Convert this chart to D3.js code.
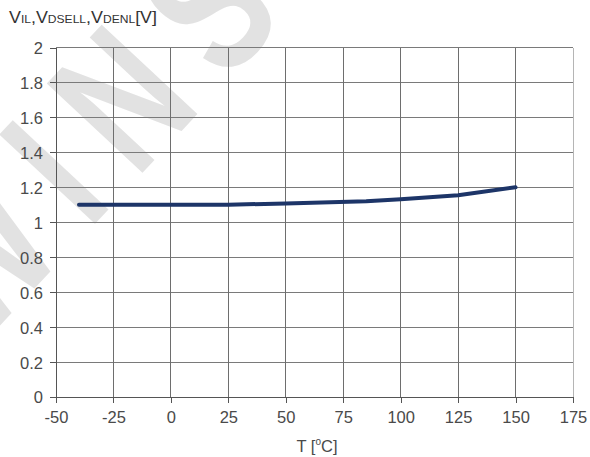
<!DOCTYPE html>
<html><head><meta charset="utf-8">
<script src="https://cdn.jsdelivr.net/npm/d3@7"></script>
<style>body{margin:0;background:#fff}svg{display:block}text{font-family:"Liberation Sans",Arial,sans-serif}</style>
</head><body><svg id="c" width="590" height="457"></svg>
<script>
const temps = [-40, 25, 50, 85, 100, 125, 150];
const volts = [1.10, 1.10, 1.108, 1.12, 1.132, 1.155, 1.20];
const xTicks = [-50, -25, 0, 25, 50, 75, 100, 125, 150, 175];
const yTicks = [0, 0.2, 0.4, 0.6, 0.8, 1, 1.2, 1.4, 1.6, 1.8, 2];

const svg = d3.select("#c");
const x = d3.scaleLinear().domain([-50, 175]).range([56, 573]);
const y = d3.scaleLinear().domain([0, 2]).range([397, 47.5]);

// watermark
svg.append("text").attr("transform", "translate(-21,348) rotate(-47) scale(0.72,1)")
  .attr("font-size", 190).attr("font-weight", "bold").attr("letter-spacing", 44)
  .attr("fill", "#e2e2e2")
  .text("WINSEMI");

// grid
svg.append("g").selectAll("line").data(yTicks.slice(1)).join("line")
  .attr("x1", x(-50)).attr("x2", x(175)).attr("y1", d => y(d)).attr("y2", d => y(d))
  .attr("stroke", "#7a7a7a").attr("stroke-width", 1).attr("shape-rendering", "crispEdges");
svg.append("g").selectAll("line").data(xTicks.slice(1)).join("line")
  .attr("x1", d => x(d)).attr("x2", d => x(d)).attr("y1", y(0)).attr("y2", y(2))
  .attr("stroke", d => d === 175 ? "#b5b5b5" : "#6e6e6e").attr("stroke-width", 1).attr("shape-rendering", "crispEdges");

// axes
const xAxis = svg.append("g").attr("transform", `translate(0,${y(0)})`)
  .call(d3.axisBottom(x).tickValues(xTicks).tickSize(6).tickPadding(8).tickFormat(d => String(d)));
const yAxis = svg.append("g").attr("transform", `translate(${x(-50)},0)`)
  .call(d3.axisLeft(y).tickValues(yTicks).tickSize(6).tickPadding(7).tickFormat(d => String(d)));
[xAxis, yAxis].forEach(a => {
  a.selectAll(".domain").attr("stroke", "#555").attr("shape-rendering", "crispEdges");
  a.selectAll(".tick line").attr("stroke", "#555").attr("shape-rendering", "crispEdges");
  a.selectAll("text").attr("font-size", 16.5).attr("fill", "#4a4a4a").attr("font-family", "Liberation Sans, Arial, sans-serif");
});
yAxis.selectAll("text").attr("dy", "0.36em");

// line
svg.append("path").datum(temps.map((t, i) => [t, volts[i]]))
  .attr("d", d3.line().x(d => x(d[0])).y(d => y(d[1])))
  .attr("fill", "none").attr("stroke", "#1d3568").attr("stroke-width", 4).attr("stroke-linecap", "round").attr("stroke-linejoin", "round");

// y title
const yt = svg.append("text").attr("x", 9).attr("y", 23).attr("fill", "#333").attr("font-size", 17)
  .attr("textLength", 148).attr("lengthAdjust", "spacingAndGlyphs");
const parts = [["V",17],["IL",11.5],[",V",17],["DSELL",11.5],[",V",17],["DENL",11.5],["[V]",17]];
parts.forEach(p => yt.append("tspan").attr("font-size", p[1]).text(p[0]));

// x title
const xt = svg.append("text").attr("x", 317).attr("y", 452).attr("text-anchor", "middle")
  .attr("fill", "#4a4a4a").attr("font-size", 16.5);
xt.append("tspan").text("T [");
xt.append("tspan").attr("font-size", 10).attr("dy", -7).text("o");
xt.append("tspan").attr("dy", 7).text("C]");
</script></body></html>
